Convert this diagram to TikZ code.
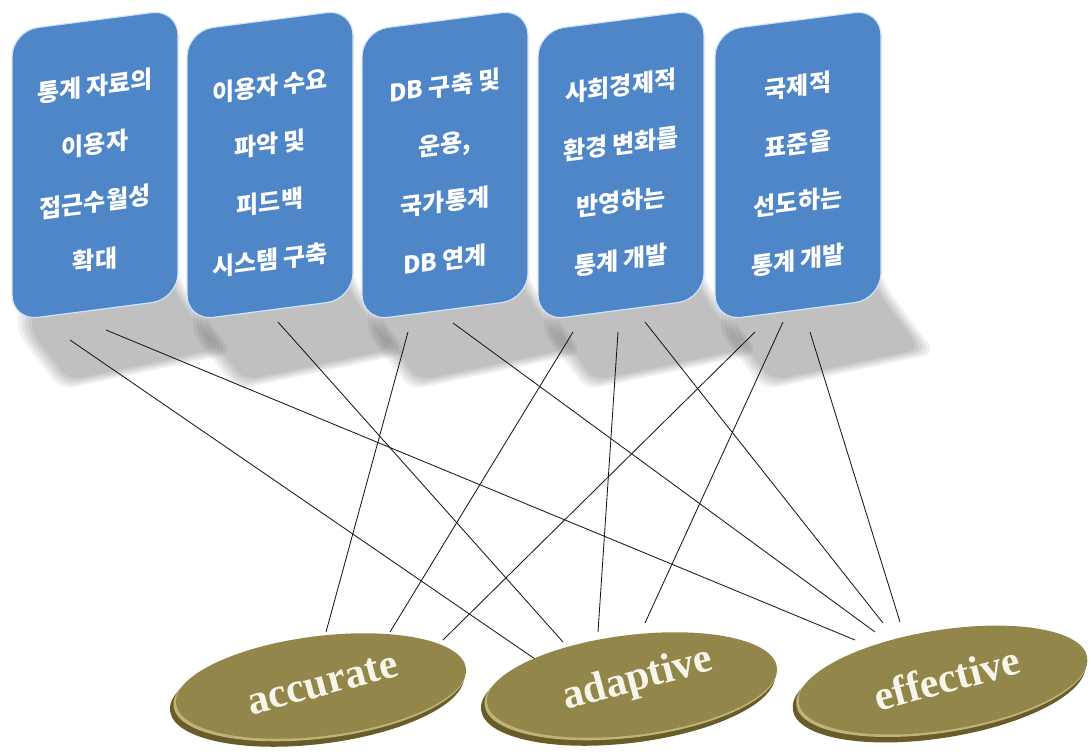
\documentclass[tikz,border=0pt]{standalone}
\usepackage{fontspec}
\newfontfamily\kr{Noto Sans CJK KR}
\newfontfamily\en{Liberation Serif}
\usetikzlibrary{shapes.geometric,calc}
\definecolor{boxblue}{RGB}{79,134,199}
\definecolor{boxedge}{RGB}{205,228,250}
\definecolor{oliveface}{RGB}{146,134,74}
\definecolor{oliverim}{RGB}{104,93,40}
\definecolor{olivelight}{RGB}{190,180,122}
\definecolor{lbltext}{RGB}{248,246,235}
\begin{document}
\begin{tikzpicture}[x=1pt,y=-1pt,
  box/.style={draw=boxedge, line width=1.2pt, fill=boxblue, rounded corners=26pt,
    minimum width=166pt, minimum height=290pt, inner sep=0pt, transform shape},
  boxtext/.style={align=center, text=white, inner sep=0pt,
    font=\kr\bfseries\fontsize{24}{58}\selectfont, transform shape},
  shad/.style={black, rounded corners=12pt, opacity=0.055},
  link/.style={line width=0.85pt, black!90},
  rim/.style={ellipse, fill=oliverim, minimum width=296pt, minimum height=102pt, inner sep=0pt},
  hil/.style={ellipse, fill=olivelight, minimum width=294pt, minimum height=100pt, inner sep=0pt},
  face/.style={ellipse, fill=oliveface, minimum width=292pt, minimum height=100pt, inner sep=0pt},
  lbl/.style={text=lbltext, font=\en\bfseries\fontsize{42}{42}\selectfont, rotate=15}
]
\useasboundingbox (0,0) rectangle (1091,754);

% soft shadows of the boxes
\foreach \cx in {95,270,445,621,798}{
  \begin{scope}[shift={(\cx,165)}, yslant=0.13]
    \foreach \s in {1.0,1.04,1.08,1.12,1.16}
      \fill[shad, scale around={\s:(24,160)}]
        (-60,108) -- (68,105) -- (80,138) -- (122,200) -- (-26,212) -- (-64,158) -- cycle;
  \end{scope}
}

% ellipse centres
\coordinate (accC) at (321,686);
\coordinate (adaC) at (632,685);
\coordinate (effC) at (943,680);

% connector ends at the boxes
\coordinate (s11) at (70,340);
\coordinate (s12) at (106,330);
\coordinate (s21) at (278,322);
\coordinate (s31) at (408,332);
\coordinate (s32) at (453,323);
\coordinate (s41) at (573,332);
\coordinate (s42) at (618,332);
\coordinate (s43) at (645,322);
\coordinate (s51) at (755,332);
\coordinate (s52) at (783,322);
\coordinate (s53) at (810,332);

% connector ends at the ellipses
\coordinate (a1) at ($(accC)+(5,-54)$);
\coordinate (a2) at ($(accC)+(69,-54)$);
\coordinate (a3) at ($(accC)+(122,-46)$);
\coordinate (d1) at ($(adaC)+(-97,-26)$);
\coordinate (d2) at ($(adaC)+(-69,-43)$);
\coordinate (d3) at ($(adaC)+(-34,-53)$);
\coordinate (d4) at ($(adaC)+(13,-62)$);
\coordinate (f1) at ($(effC)+(-88,-40)$);
\coordinate (f2) at ($(effC)+(-68,-48)$);
\coordinate (f3) at ($(effC)+(-60,-57)$);
\coordinate (f4) at ($(effC)+(-43,-58)$);

\draw[link] (s11) -- (d1);
\draw[link] (s12) -- (f1);
\draw[link] (s21) -- (d2);
\draw[link] (s31) -- (a1);
\draw[link] (s32) -- (f2);
\draw[link] (s41) -- (a2);
\draw[link] (s42) -- (d3);
\draw[link] (s43) -- (f3);
\draw[link] (s51) -- (a3);
\draw[link] (s52) -- (d4);
\draw[link] (s53) -- (f4);

% boxes
\begin{scope}[shift={(95,165)}, yslant=0.13]
  \node[box] (b1) at (0,0) {};
  \node[boxtext] (b1t) at (0,8) {통계 자료의\\이용자\\접근수월성\\확대};
\end{scope}
\begin{scope}[shift={(270,165)}, yslant=0.13]
  \node[box] (b2) at (0,0) {};
  \node[boxtext] (b2t) at (0,8) {이용자 수요\\파악 및\\피드백\\시스템 구축};
\end{scope}
\begin{scope}[shift={(445,165)}, yslant=0.13]
  \node[box] (b3) at (0,0) {};
  \node[boxtext] (b3t) at (0,8) {DB 구축 및\\운용,\\국가통계\\DB 연계};
\end{scope}
\begin{scope}[shift={(621,165)}, yslant=0.13]
  \node[box] (b4) at (0,0) {};
  \node[boxtext] (b4t) at (0,8) {사회경제적\\환경 변화를\\반영하는\\통계 개발};
\end{scope}
\begin{scope}[shift={(798,165)}, yslant=0.13]
  \node[box] (b5) at (0,0) {};
  \node[boxtext] (b5t) at (0,8) {국제적\\표준을\\선도하는\\통계 개발};
\end{scope}

% ellipses
\node[rim, rotate=7] (accR) at ($(accC)+(-4,7)$) {};
\node[hil, rotate=7] (accH) at ($(accC)+(-1.5,2.5)$) {};
\node[face, rotate=7] (acc) at (accC) {};
\node[lbl] (accT) at ($(accC)+(2,-2)$) {accurate};

\node[rim, rotate=7] (adaR) at ($(adaC)+(-4,7)$) {};
\node[hil, rotate=7] (adaH) at ($(adaC)+(-1.5,2.5)$) {};
\node[face, rotate=7] (ada) at (adaC) {};
\node[lbl] (adaT) at ($(adaC)+(6,-5)$) {adaptive};

\node[rim, rotate=9] (effR) at ($(effC)+(-4,7)$) {};
\node[hil, rotate=9] (effH) at ($(effC)+(-1.5,2.5)$) {};
\node[face, rotate=9] (eff) at (effC) {};
\node[lbl] (effT) at ($(effC)+(4,-2)$) {effective};
\end{tikzpicture}
\end{document}
